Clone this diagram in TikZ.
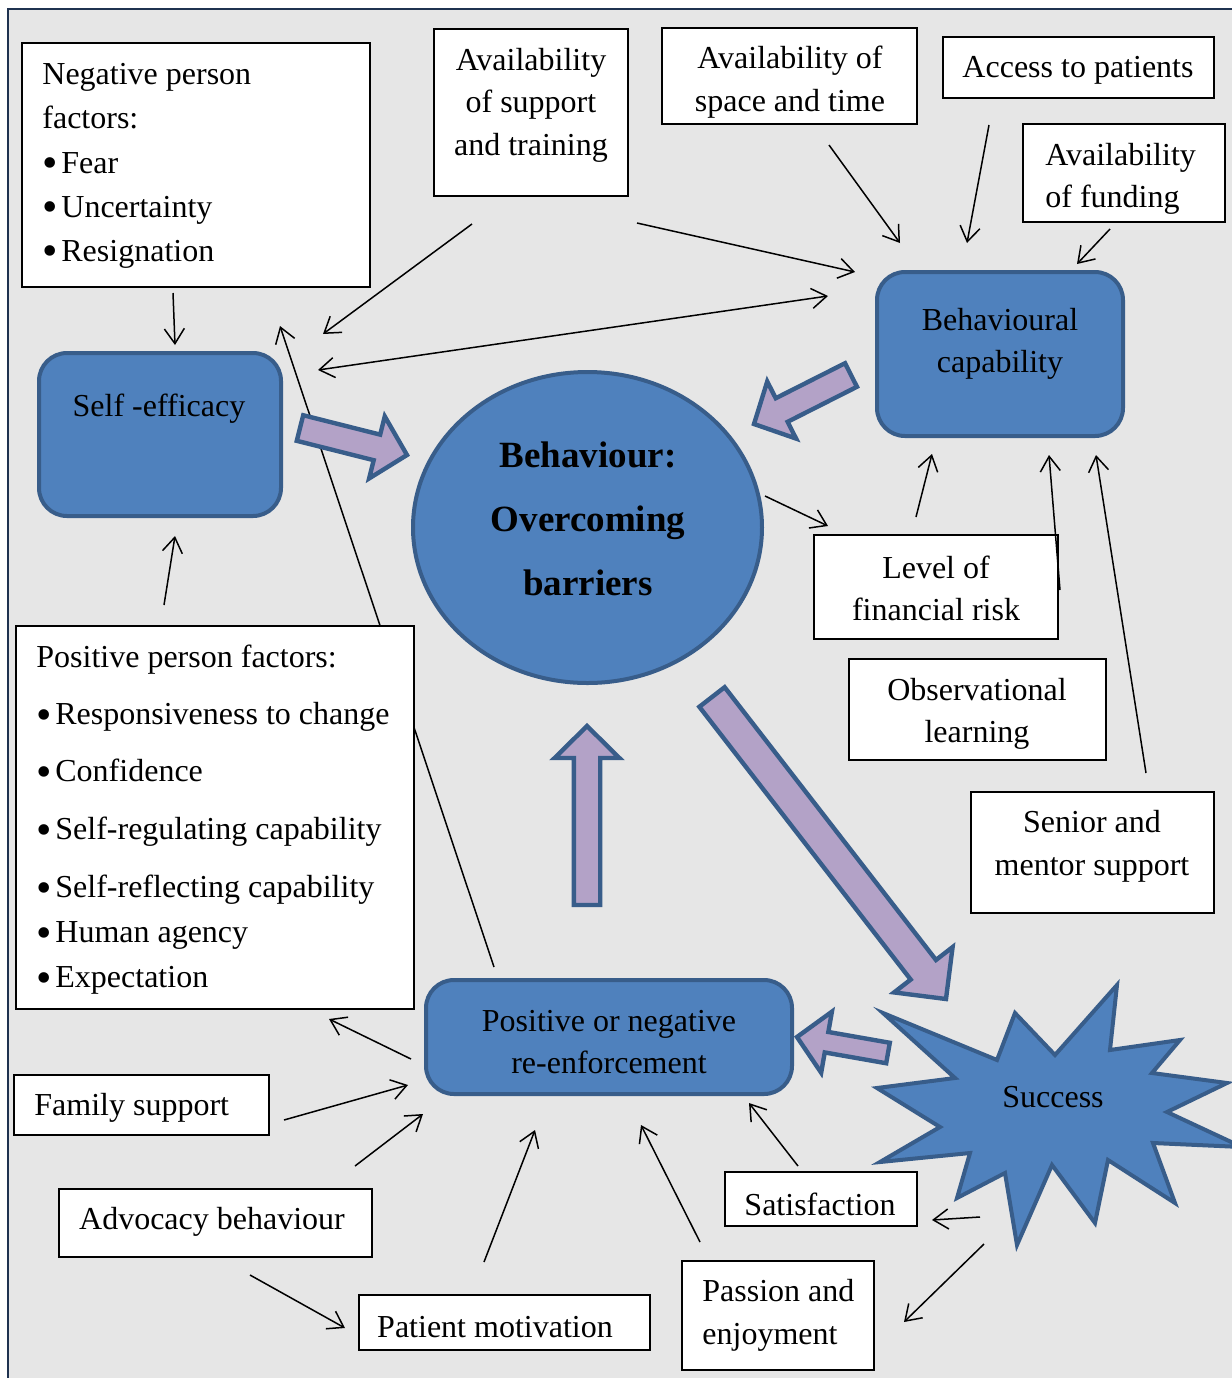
\documentclass[tikz,border=0pt]{standalone}
\usepackage{fontspec}
\setmainfont{Liberation Serif}
\usetikzlibrary{calc,arrows.meta,fit,shapes.geometric}
\definecolor{bgc}{HTML}{E6E6E6}
\definecolor{bfill}{HTML}{4F81BD}
\definecolor{bline}{HTML}{385D8A}
\definecolor{lav}{HTML}{B3A2C7}
\definecolor{framec}{HTML}{1F3250}
\newcommand\bul{\makebox[9.5pt][l]{\raisebox{-2.2pt}{\fontsize{22}{22}\selectfont\textbullet}}}
% from, to, half shaft, half head, head length
\newcommand\fatarr[5]{%
  \draw[fatstyle] ($(#1)!#3!90:(#2)$)
   -- ($($(#2)!#5!(#1)$)!#3!90:(#2)$)
   -- ($($(#2)!#5!(#1)$)!#4!90:(#2)$)
   -- (#2)
   -- ($($(#2)!#5!(#1)$)!#4!-90:(#2)$)
   -- ($($(#2)!#5!(#1)$)!#3!-90:(#2)$)
   -- ($(#1)!#3!-90:(#2)$) -- cycle;}
\begin{document}
\begin{tikzpicture}[x=0.5pt,y=-0.5pt,
  box/.style={draw=black, fill=white, line width=0.6pt, inner sep=0pt},
  txt/.style={inner sep=0pt, font=\fontsize{16}{21.25}\selectfont, align=center},
  bshape/.style={draw=bline, fill=bfill, line width=2pt},
  fatstyle/.style={draw=bline, fill=lav, line width=2.2pt, line join=miter},
  arr/.style={line width=0.75pt, -{Straight Barb[length=7.5pt,width=10pt]}},
  darr/.style={line width=0.75pt, {Straight Barb[length=7.5pt,width=10pt]}-{Straight Barb[length=7.5pt,width=10pt]}}]
\useasboundingbox (0,0) rectangle (1232,1378);
% background frame
\fill[bgc] (8,9) rectangle (1245,1390);
\draw[framec, line width=1.1pt] (8,1390) -- (8,9) -- (1245,9);

% line that passes under the positive factors box
\coordinate (m1) at (494,967); \coordinate (m2) at (280,326);
\draw[arr] (m1) -- (m2);

% boxes
\node[box, fit={(22,43)(370,287)}] (neg) {};
\node[txt, anchor=west, align=left, font=\fontsize{16}{22.1}\selectfont] (negt) at (42,166)
  {Negative person\\factors:\\\bul Fear\\\bul Uncertainty\\\bul Resignation};
\node[box, fit={(434,29)(628,196)}] (avs) {};
\node[txt] (avst) at (531,105) {Availability\\of support\\and training};
\node[box, fit={(662,28)(917,124)}] (ast) {};
\node[txt] (astt) at (790,82) {Availability of\\space and time};
\node[box, fit={(943,37)(1214,98)}] (acc) {};
\node[txt] (acct) at (1078,70) {Access to patients};
\node[box, fit={(1023,124)(1225,222)}] (fund) {};
\node[txt, anchor=west, align=left] (fundt) at (1045,179) {Availability\\of funding};
\node[box, fit={(814,535)(1058,639)}] (risk) {};
\node[txt] (riskt) at (936,588.5) {Level of\\financial risk};
\node[box, fit={(849,659)(1106,760)}] (obs) {};
\node[txt] (obst) at (977,714) {Observational\\learning};
\node[box, fit={(971,792)(1214,913)}] (sen) {};
\node[txt] (sent) at (1092,846.5) {Senior and\\mentor support};
\node[box, fit={(16,626)(414,1009)}] (pos) {};
\node[txt, anchor=north west, align=left, font=\fontsize{16}{22.5}\selectfont] (post) at (36,645)
  {Positive person factors:\\[6pt]
   \bul Responsiveness to change\\[6pt]
   \bul Confidence\\[6.5pt]
   \bul Self-regulating capability\\[6.5pt]
   \bul Self-reflecting capability\\
   \bul Human agency\\
   \bul Expectation};
\node[box, fit={(14,1075)(269,1135)}] (fam) {};
\node[txt, anchor=west] (famt) at (34,1108) {Family support};
\node[box, fit={(59,1189)(372,1257)}] (adv) {};
\node[txt] (advt) at (212,1222) {Advocacy behaviour};
\node[box, fit={(359,1295)(650,1350)}] (pm) {};
\node[txt] (pmt) at (495,1327) {Patient motivation};
\node[box, fit={(682,1261)(874,1370)}] (pas) {};
\node[txt, anchor=west, align=left] (past) at (702,1315.5) {Passion and\\enjoyment};
\node[box, fit={(725,1172)(917,1226)}] (sat) {};
\node[txt] (satt) at (820,1204.5) {Satisfaction};

% blue shapes
\node[bshape, rounded corners=14pt, fit={(877,272)(1123,436)}, inner sep=0pt] (beh) {};
\node[txt] (beht) at (1000,344) {Behavioural\\capability};
\node[bshape, rounded corners=14pt, fit={(39,353)(281,516)}, inner sep=0pt] (self) {};
\node[txt] (selft) at (159,409) {Self -efficacy};
\node[bshape, rounded corners=14pt, fit={(426,980)(792,1094)}, inner sep=0pt] (reinf) {};
\node[txt] (reinft) at (609,1042) {Positive or negative\\re-enforcement};
\node[bshape, ellipse, minimum width=174.5pt, minimum height=155.5pt, inner sep=0pt] (circ) at (587.5,527.5) {};
\node[txt, font=\bfseries\fontsize{18.5}{32}\selectfont] (circt) at (588,519) {Behaviour:\\Overcoming\\barriers};
\draw[bshape, line join=miter] (883,1013) -- (997,1060) -- (1015,1013) -- (1055,1055) -- (1117,985)
  -- (1110,1050) -- (1180,1040) -- (1152,1073) -- (1227,1083) -- (1167,1112) -- (1242,1147)
  -- (1153,1143) -- (1175,1203) -- (1108,1160) -- (1095,1223) -- (1052,1165) -- (1017,1245)
  -- (1005,1173) -- (957,1198) -- (970,1153) -- (880,1162) -- (940,1127) -- (877,1088)
  -- (955,1078) -- cycle;
\node[txt] (succ) at (1053,1097) {Success};

% thin connectors
\coordinate (a1) at (173,293);  \coordinate (a2) at (175,345);
\coordinate (b1) at (472,224);  \coordinate (b2) at (323,334);
\coordinate (c1) at (637,223);  \coordinate (c2) at (855,272);
\coordinate (d1) at (318,370);  \coordinate (d2) at (828,296);
\coordinate (e1) at (829,145);  \coordinate (e2) at (900,243);
\coordinate (f1) at (989,125);  \coordinate (f2) at (967,243);
\coordinate (g1) at (1110,229); \coordinate (g2) at (1077,264);
\coordinate (h1) at (765,496);  \coordinate (h2) at (828,526);
\coordinate (i1) at (916,517);  \coordinate (i2) at (932,454);
\coordinate (j1) at (1060,590); \coordinate (j2) at (1049,455);
\coordinate (k1) at (1146,773); \coordinate (k2) at (1096,455);
\coordinate (l1) at (164,605);  \coordinate (l2) at (175,536);
\coordinate (n1) at (411,1059); \coordinate (n2) at (329,1019);
\coordinate (o1) at (284,1120); \coordinate (o2) at (408,1085);
\coordinate (p1) at (355,1166); \coordinate (p2) at (423,1114);
\coordinate (q1) at (250,1275); \coordinate (q2) at (345,1328);
\coordinate (r1) at (484,1262); \coordinate (r2) at (535,1130);
\coordinate (s1) at (700,1242); \coordinate (s2) at (641,1125);
\coordinate (t1) at (798,1166); \coordinate (t2) at (749,1103);
\coordinate (u1) at (980,1217); \coordinate (u2) at (932,1220);
\coordinate (v1) at (984,1244); \coordinate (v2) at (904,1322);
\foreach \s in {a,b,c,e,f,g,h,i,j,k,l,n,o,p,q,r,s,t,u,v}
  \draw[arr] (\s1) -- (\s2);
\draw[darr] (d1) -- (d2);

% fat arrows
\coordinate (F1a) at (300,428); \coordinate (F1b) at (407,455);
\coordinate (F2a) at (851,375); \coordinate (F2b) at (754,424);
\coordinate (F3a) at (587,905); \coordinate (F3b) at (587,726);
\coordinate (F4a) at (712,697); \coordinate (F4b) at (946,999);
\coordinate (F5a) at (888,1053); \coordinate (F5b) at (797,1037);
\fatarr{F1a}{F1b}{6.6pt}{16pt}{15.5pt}
\fatarr{F2a}{F2b}{6.6pt}{16pt}{15.5pt}
\fatarr{F3a}{F3b}{6.6pt}{16.2pt}{16pt}
\fatarr{F4a}{F4b}{8pt}{18.5pt}{18.5pt}
\fatarr{F5a}{F5b}{5.2pt}{15.5pt}{15pt}
\end{tikzpicture}
\end{document}
